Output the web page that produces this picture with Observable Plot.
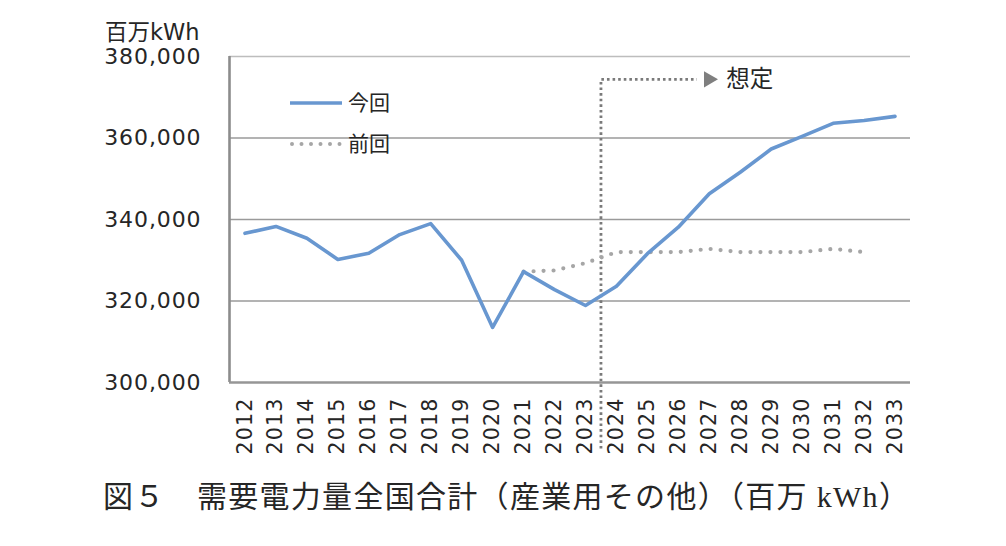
<!DOCTYPE html>
<html><head><meta charset="utf-8">
<script src="https://cdn.jsdelivr.net/npm/d3@7"></script>
<script src="https://cdn.jsdelivr.net/npm/@observablehq/plot@0.6"></script>
<style>
body{margin:0;background:#fff;width:1006px;height:546px;position:relative;overflow:hidden;font-family:"DejaVu Sans",sans-serif;color:#262626}
#chart{position:absolute;left:0;top:0}
#chart svg{overflow:visible}
g[aria-label="y-axis tick label"] text{letter-spacing:0.9px;font-size:22px}
g[aria-label="x-axis tick label"] text{letter-spacing:1.2px}
.abs{position:absolute;white-space:nowrap;line-height:1}
#unit{left:105px;top:21px;font-size:22.5px;font-family:"DejaVu Sans","Noto Sans CJK JP",sans-serif;color:#262626}
.leg{font-size:21px;font-family:"Noto Sans CJK JP",sans-serif;color:#262626}
#caption{left:103px;top:482px;font-size:30px;letter-spacing:1.3px;font-family:"Liberation Serif","Noto Sans CJK JP",serif;color:#262626}
</style></head><body>
<div id="chart"></div>
<div class="abs" id="unit">百万kWh</div>
<div class="abs" style="left:290px;top:93px"><svg width="52" height="20"><line x1="0" y1="10" x2="52" y2="10" stroke="#6897d0" stroke-width="3.5"/></svg></div>
<div class="abs leg" style="left:348px;top:91px">今回</div>
<div class="abs" style="left:290px;top:134px"><svg width="52" height="20"><line x1="2" y1="10" x2="52" y2="10" stroke="#a6a6a6" stroke-width="4" stroke-linecap="round" stroke-dasharray="0 9.5"/></svg></div>
<div class="abs leg" style="left:348px;top:132px">前回</div>
<div class="abs" id="caption">図５　需要電力量全国合計（産業用その他）（百万 kWh）</div>
<script>
const years = [2012,2013,2014,2015,2016,2017,2018,2019,2020,2021,2022,2023,2024,2025,2026,2027,2028,2029,2030,2031,2032,2033];
const current = [336600,338300,335400,330200,331700,336300,339000,330000,313500,327200,322800,318900,323600,331600,338100,346300,351600,357300,360400,363600,364300,365300];
const prevYears = [2021,2022,2023,2024,2025,2026,2027,2028,2029,2030,2031,2032];
const previous = [327200,327500,329300,332000,332000,332000,332800,332000,332000,332000,332800,332000];
const yTicks = [300000,320000,340000,360000,380000];
const gridTicks = [320000,340000,360000];
// annotation (data space): boundary between actual and assumed
const annotX = [2023.5,2023.5,2026.6];
const annotY = [283800,374400,374400];
const arrowHead = [{x:2026.98,y:374400}];
const annotLabel = [{x:2027.55,y:374400,text:"想定"}];

const curData = years.map((y,i)=>({year:y,value:current[i]}));
const prevData = prevYears.map((y,i)=>({year:y,value:previous[i]}));
const annotData = annotX.map((x,i)=>({x,y:annotY[i]}));

const plot = Plot.plot({
  width:1006, height:470,
  marginLeft:229, marginRight:96, marginTop:56, marginBottom:88,
  style:{fontFamily:'"DejaVu Sans", sans-serif', fontSize:"20.5px", color:"#262626", background:"transparent"},
  x:{type:"linear", domain:[2011.5,2033.5]},
  y:{domain:[300000,380000]},
  marks:[
    Plot.ruleY([380000], {stroke:"#bdbdbd", strokeWidth:1.5}),
    Plot.ruleY(gridTicks, {stroke:"#9a9a9a", strokeWidth:1.6}),
    Plot.axisY({ticks:yTicks, tickFormat:d3.format(","), tickSize:0, tickPadding:28, label:null}),
    Plot.axisX({ticks:years, tickFormat:d=>String(d), tickRotate:-90, tickSize:0, tickPadding:15, label:null}),
    Plot.line(annotData, {x:"x", y:"y", stroke:"#7a7a7a", strokeWidth:2.8, strokeDasharray:"2.6 3", strokeLinecap:"butt"}),
    Plot.dot(arrowHead, {x:"x", y:"y", symbol:"triangle", rotate:90, fill:"#7f7f7f", stroke:null, r:6}),
    Plot.text(annotLabel, {x:"x", y:"y", text:"text", textAnchor:"start", fontSize:23.5, fontFamily:"Noto Sans CJK JP", fill:"#262626"}),
    Plot.line(prevData, {x:"year", y:"value", stroke:"#a6a6a6", strokeWidth:4.2, strokeLinecap:"round", strokeDasharray:"0 10"}),
    Plot.line(curData, {x:"year", y:"value", stroke:"#6897d0", strokeWidth:3.6}),
    Plot.ruleX([2011.5], {stroke:"#8c8c8c", strokeWidth:2.6}),
    Plot.ruleY([300000], {stroke:"#969696", strokeWidth:2.6})
  ]
});
document.getElementById("chart").appendChild(plot);
</script>
</body></html>
